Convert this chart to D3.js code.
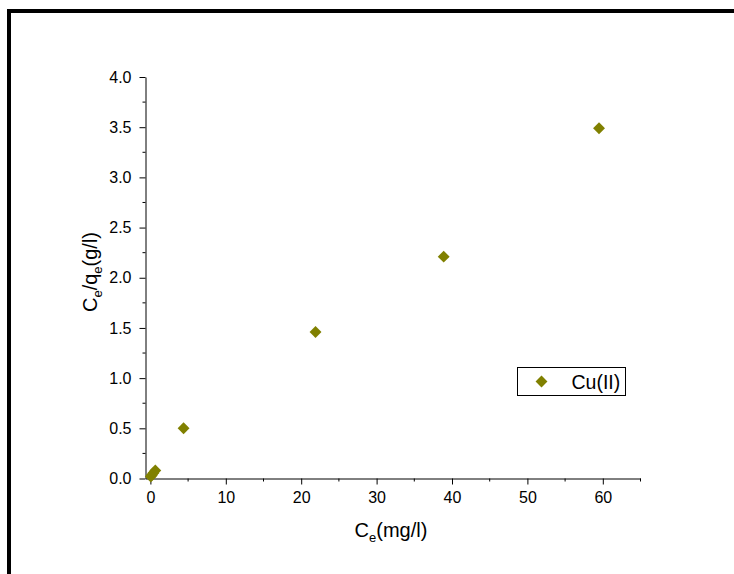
<!DOCTYPE html>
<html>
<head>
<meta charset="utf-8">
<script src="https://cdn.jsdelivr.net/npm/d3@7"></script>
<style>
  html, body { margin: 0; padding: 0; background: #fff; }
  svg { display: block; font-family: "Liberation Sans", Arial, sans-serif; }
</style>
</head>
<body>
<script>
// Langmuir plot for Cu(II): Ce versus Ce/qe
const seriesName = "Cu(II)";
const ceValues = [0.05, 0.2, 0.4, 0.65, 4.4, 21.9, 38.9, 59.5];
const ceOverQe = [0.02, 0.035, 0.055, 0.08, 0.50, 1.46, 2.21, 3.49];
const xTicks = [0, 10, 20, 30, 40, 50, 60];
const yTicks = [0, 0.5, 1.0, 1.5, 2.0, 2.5, 3.0, 3.5, 4.0];

const W = 734, H = 574;
const color = "#808000";

const svg = d3.select("body").append("svg")
  .attr("width", W).attr("height", H);

// frame lines (top and left)
svg.append("path")
  .attr("d", `M9,574 V11 H734`)
  .attr("fill", "none").attr("stroke", "#000").attr("stroke-width", 4);

const plotLeft = 145.5, plotRight = 640.5, plotTop = 77, plotBottom = 478.5;
const x = d3.scaleLinear().domain([-0.65, 65]).range([plotLeft, plotRight]);
const y = d3.scaleLinear().domain([0, 4.0]).range([plotBottom, plotTop]);

// minor ticks
const xMinor = d3.range(5, 66, 10);
const yMinor = d3.range(0.25, 4.0, 0.5);

const gx = svg.append("g").attr("transform", `translate(0,${plotBottom})`);
gx.call(d3.axisBottom(x).tickValues(xTicks).tickFormat(d3.format("d"))
  .tickSizeInner(6).tickSizeOuter(0).tickPadding(7));
gx.append("g").selectAll("line").data(xMinor).join("line")
  .attr("x1", d => x(d)).attr("x2", d => x(d))
  .attr("y1", 0).attr("y2", 3).attr("stroke", "#000");

const gy = svg.append("g").attr("transform", `translate(${plotLeft},0)`);
gy.call(d3.axisLeft(y).tickValues(yTicks).tickFormat(d3.format(".1f"))
  .tickSizeInner(6).tickSizeOuter(0).tickPadding(8));
gy.append("g").selectAll("line").data(yMinor).join("line")
  .attr("y1", d => y(d)).attr("y2", d => y(d))
  .attr("x1", 0).attr("x2", -3).attr("stroke", "#000");

svg.selectAll(".domain").attr("stroke", "#000");
svg.selectAll(".tick line").attr("stroke", "#000");
svg.selectAll(".tick text")
  .attr("font-family", "'Liberation Sans', Arial, sans-serif")
  .attr("font-size", 16).attr("fill", "#000");

// axis titles
const xt = svg.append("text")
  .attr("x", (plotLeft + plotRight) / 2 - 2).attr("y", 537)
  .attr("text-anchor", "middle").attr("font-size", 20);
xt.append("tspan").text("C");
xt.append("tspan").attr("font-size", 13).attr("dy", 5).text("e");
xt.append("tspan").attr("dy", -5).text("(mg/l)");

const yt = svg.append("text")
  .attr("transform", `translate(97,272) rotate(-90)`)
  .attr("text-anchor", "middle").attr("font-size", 20);
yt.append("tspan").text("C");
yt.append("tspan").attr("font-size", 13).attr("dy", 5).text("e");
yt.append("tspan").attr("dy", -5).text("/q");
yt.append("tspan").attr("font-size", 13).attr("dy", 5).text("e");
yt.append("tspan").attr("dy", -5).text("(g/l)");

// data points
const diamond = d3.symbol().type(d3.symbolDiamond2).size(90);
svg.append("g").selectAll("path")
  .data(ceValues.map((v, i) => [v, ceOverQe[i]]))
  .join("path")
  .attr("transform", d => `translate(${x(d[0])},${y(d[1])})`)
  .attr("d", diamond)
  .attr("fill", color);

// legend
const lg = svg.append("g").attr("transform", "translate(517.5,367.5)");
lg.append("rect").attr("width", 108).attr("height", 28)
  .attr("fill", "#fff").attr("stroke", "#000").attr("stroke-width", 1);
lg.append("path").attr("d", diamond).attr("transform", "translate(24,14)").attr("fill", color);
lg.append("text").attr("x", 54).attr("y", 21).attr("font-size", 19.5).text(seriesName);
</script>
</body>
</html>
